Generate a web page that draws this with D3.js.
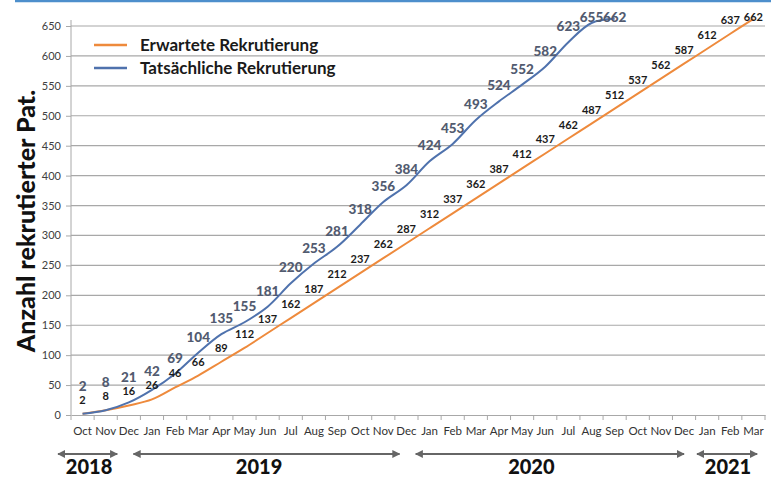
<!DOCTYPE html>
<html><head><meta charset="utf-8">
<script src="https://cdn.jsdelivr.net/npm/d3@7"></script>
<style>body{margin:0;background:#fff}svg{display:block}</style>
</head><body>
<svg id="c" width="771" height="479"></svg>
<script>
const months = ["Oct","Nov","Dec","Jan","Feb","Mar","Apr","May","Jun","Jul","Aug","Sep","Oct","Nov","Dec","Jan","Feb","Mar","Apr","May","Jun","Jul","Aug","Sep","Oct","Nov","Dec","Jan","Feb","Mar"];
const expected = [2,8,16,26,46,66,89,112,137,162,187,212,237,262,287,312,337,362,387,412,437,462,487,512,537,562,587,612,637,662];
const actual = [2,8,21,42,69,104,135,155,181,220,253,281,318,356,384,424,453,493,524,552,582,623,655,662];
const yTicks = [0,50,100,150,200,250,300,350,400,450,500,550,600,650];
const years = ["2018","2019","2020","2021"];
const yearStart = [0,3,15,27];
const yearEnd = [2,14,26,29];
const seriesNames = ["Erwartete Rekrutierung","Tatsächliche Rekrutierung"];

const F = "Lato, 'Open Sans', sans-serif";
const cOrange = "#ee8a3c", cBlue = "#4f72ad", grid = "#a8a8a8";
const svg = d3.select("#c");

// top border line
svg.append("line").attr("x1",15).attr("x2",771).attr("y1",1).attr("y2",1)
  .attr("stroke","#4d8fcc").attr("stroke-width",2.5);

const x = d3.scaleBand().domain(d3.range(months.length)).range([71,765]);
const y = d3.scaleLinear().domain([0,650]).range([415,26]);
const cx = i => x(i) + x.bandwidth()/2;
const xf = u => 71 + u * x.step();   // fractional category position

// grid
svg.append("g").selectAll("line").data(yTicks.filter(d=>d>0)).join("line")
  .attr("x1",71).attr("x2",765).attr("y1",d=>y(d)).attr("y2",d=>y(d))
  .attr("stroke",grid).attr("stroke-width",1.2);

// y axis
const ya = svg.append("g").attr("transform","translate(71,0)")
  .call(d3.axisLeft(y).tickValues(yTicks).tickSize(5).tickPadding(5));
ya.select(".domain").attr("stroke",grid).attr("d","M0,20V415");
ya.selectAll(".tick line").attr("stroke",grid);
ya.selectAll("text").attr("font-family",F).attr("font-size",11).attr("fill","#404040");

// x axis
const xa = svg.append("g").attr("transform","translate(0,415)")
  .call(d3.axisBottom(x).tickFormat(i=>months[i]).tickSize(0).tickPadding(12));
xa.select(".domain").attr("stroke",grid).attr("stroke-width",1.2);
xa.selectAll("text").attr("font-family",F).attr("font-size",11.5).attr("fill","#333");
xa.selectAll(".bt").data(d3.range(months.length+1)).join("line")
  .attr("x1",i=>xf(i)).attr("x2",i=>xf(i))
  .attr("y1",0).attr("y2",5).attr("stroke",grid);

// lines
const line = d3.line().x((d,i)=>cx(i)).y(d=>y(d)).curve(d3.curveCatmullRom.alpha(0.5));
svg.append("path").datum(expected).attr("d",line).attr("fill","none")
  .attr("stroke",cOrange).attr("stroke-width",2);
svg.append("path").datum(actual).attr("d",line).attr("fill","none")
  .attr("stroke",cBlue).attr("stroke-width",2);

// labels
const oY = (d,i) => Math.max(y(d)-14, 17);
svg.append("g").selectAll("text").data(expected).join("text")
  .attr("x",(d,i)=>cx(i)).attr("y",(d,i)=>oY(d,i)+4)
  .attr("text-anchor","middle").attr("font-family",F).attr("font-weight","bold")
  .attr("font-size",11).attr("fill","#1a1a1a").text(d=>d);
svg.append("g").selectAll("text").data(actual).join("text")
  .attr("x",(d,i)=>cx(i)).attr("y",(d,i)=>Math.max(Math.min(y(d)-16, oY(expected[i],i)-14),17)+5)
  .attr("text-anchor","middle").attr("font-family",F).attr("font-weight",900)
  .attr("font-size",13.5).attr("fill","#525b70").text(d=>d);

// legend
const lg = svg.append("g");
[cOrange,cBlue].forEach((c,k)=>{
  lg.append("line").attr("x1",94).attr("x2",127).attr("y1",45+k*23).attr("y2",45+k*23)
    .attr("stroke",c).attr("stroke-width",2.5);
  lg.append("text").attr("x",140).attr("y",51+k*23).attr("font-family",F)
    .attr("font-weight","bold").attr("font-size",17).attr("fill","#1a1a1a").text(seriesNames[k]);
});

// y title
svg.append("text").attr("transform","translate(35,221) rotate(-90)")
  .attr("text-anchor","middle").attr("font-family",F).attr("font-weight",900)
  .attr("font-size",25).attr("fill","#111").text("Anzahl rekrutierter Pat.");

// year arrows
const defs = svg.append("defs");
defs.append("marker").attr("id","ah").attr("viewBox","0 0 10 10").attr("refX",9).attr("refY",5)
  .attr("markerWidth",4).attr("markerHeight",4).attr("orient","auto-start-reverse")
  .append("path").attr("d","M0,0L10,5L0,10z").attr("fill","#666");
const arrowStartOff = [-0.56,-0.3,-0.1,0.06];
const arrowEndOff = [0,0.2,0.5,0.66];
const labelOff = [0.78,8.13,19.9,28.4];
const yr = svg.append("g");
years.forEach((t,k)=>{
  const x1 = xf(yearStart[k] + arrowStartOff[k]);
  const x2 = xf(yearEnd[k] + arrowEndOff[k]);
  yr.append("line").attr("x1",x1).attr("x2",x2).attr("y1",454).attr("y2",454)
    .attr("stroke","#666").attr("stroke-width",2)
    .attr("marker-start","url(#ah)").attr("marker-end","url(#ah)");
  yr.append("text").attr("x",xf(labelOff[k])).attr("y",474).attr("text-anchor","middle")
    .attr("font-family",F).attr("font-weight",900).attr("font-size",20).attr("fill","#111").text(t);
});
</script>
</body></html>
